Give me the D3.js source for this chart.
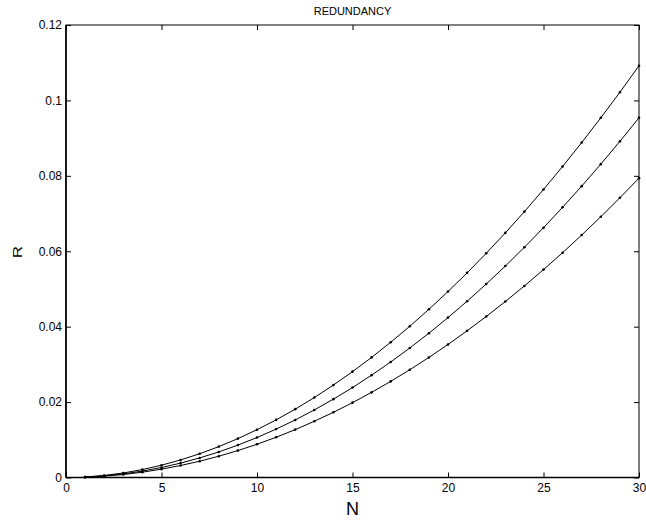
<!DOCTYPE html>
<html>
<head>
<meta charset="utf-8">
<script src="https://cdn.jsdelivr.net/npm/d3@7"></script>
<style>
  html, body { margin: 0; padding: 0; background: #fff; }
  svg { display: block; font-family: "Liberation Sans", Arial, Helvetica, sans-serif; }
</style>
</head>
<body>
<svg id="chart" width="646" height="521"></svg>
<script>
// ---- data ----
const N = [1,2,3,4,5,6,7,8,9,10,11,12,13,14,15,16,17,18,19,20,21,22,23,24,25,26,27,28,29,30];
const seriesTop = [0.00014,0.00054,0.00120,0.00210,0.00326,0.00466,0.00630,0.00819,0.01031,0.01268,
                   0.01528,0.01812,0.02120,0.02451,0.02807,0.03185,0.03587,0.04011,0.04460,0.04932,
                   0.05427,0.05945,0.06486,0.07050,0.07638,0.08248,0.08882,0.09538,0.10217,0.10919];
const seriesMid = [0.00011,0.00042,0.00095,0.00170,0.00265,0.00382,0.00519,0.00678,0.00859,0.01060,
                   0.01283,0.01526,0.01791,0.02078,0.02385,0.02714,0.03063,0.03434,0.03827,0.04240,
                   0.04675,0.05130,0.05607,0.06106,0.06625,0.07166,0.07727,0.08310,0.08915,0.09540];
const seriesLow = [0.00009,0.00035,0.00079,0.00141,0.00221,0.00318,0.00432,0.00565,0.00714,0.00882,
                   0.01067,0.01270,0.01491,0.01729,0.01985,0.02258,0.02549,0.02858,0.03184,0.03528,
                   0.03890,0.04269,0.04666,0.05080,0.05513,0.05962,0.06430,0.06915,0.07418,0.07938];
const xTicks = [0,5,10,15,20,25,30];
const xTickLabels = ["0","5","10","15","20","25","30"];
const yTicks = [0,0.02,0.04,0.06,0.08,0.1,0.12];
const yTickLabels = ["0","0.02","0.04","0.06","0.08","0.1","0.12"];
const chartTitle = "REDUNDANCY";
const xLabel = "N";
const yLabel = "R";

// ---- layout ----
const mLeft = 66, mRight = 639, mTop = 25, mBottom = 477.5;
const svg = d3.select("#chart");

const x = d3.scaleLinear().domain([0, 30]).range([mLeft, mRight]);
const y = d3.scaleLinear().domain([0, 0.12]).range([mBottom, mTop]);

// box
svg.append("rect")
  .attr("x", mLeft).attr("y", mTop)
  .attr("width", mRight - mLeft).attr("height", mBottom - mTop)
  .attr("fill", "none").attr("stroke", "#000").attr("stroke-width", 1);

// axes (inward ticks on all four sides)
function styleAxis(g) {
  g.select(".domain").remove();
  g.selectAll(".tick line").attr("stroke", "#000").attr("stroke-width", 1);
  g.selectAll(".tick text").attr("fill", "#000").style("font-size", "12px")
    .style("font-family", "'Liberation Sans', Arial, Helvetica, sans-serif");
}
const gx = svg.append("g").attr("transform", `translate(0,${mBottom})`)
  .call(d3.axisBottom(x).tickValues(xTicks).tickFormat((d, i) => xTickLabels[i])
        .tickSizeInner(-5).tickSizeOuter(0).tickPadding(6));
styleAxis(gx);
const gxt = svg.append("g").attr("transform", `translate(0,${mTop})`)
  .call(d3.axisTop(x).tickValues(xTicks).tickFormat("").tickSizeInner(-5).tickSizeOuter(0));
styleAxis(gxt);
const gy = svg.append("g").attr("transform", `translate(${mLeft},0)`)
  .call(d3.axisLeft(y).tickValues(yTicks).tickFormat((d, i) => yTickLabels[i])
        .tickSizeInner(-5).tickSizeOuter(0).tickPadding(4));
styleAxis(gy);
const gyr = svg.append("g").attr("transform", `translate(${mRight},0)`)
  .call(d3.axisRight(y).tickValues(yTicks).tickFormat("").tickSizeInner(-5).tickSizeOuter(0));
styleAxis(gyr);

// thicker left and bottom axis lines
svg.append("line").attr("x1", mLeft).attr("x2", mLeft).attr("y1", mTop).attr("y2", mBottom)
  .attr("stroke", "#000").attr("stroke-width", 1.6);
svg.append("line").attr("x1", mLeft).attr("x2", mRight).attr("y1", mBottom).attr("y2", mBottom)
  .attr("stroke", "#000").attr("stroke-width", 1.6);

// curves
const allSeries = [seriesTop, seriesMid, seriesLow];
const line = d3.line().x((d, i) => x(N[i])).y(d => y(d));
allSeries.forEach(s => {
  svg.append("path").datum(s).attr("d", line)
    .attr("fill", "none").attr("stroke", "#000").attr("stroke-width", 1);
  svg.append("g").selectAll("circle").data(s).join("circle")
    .attr("cx", (d, i) => x(N[i])).attr("cy", d => y(d)).attr("r", 1.3).attr("fill", "#000");
});

// title and labels
svg.append("text").attr("x", (mLeft + mRight) / 2).attr("y", 15)
  .attr("text-anchor", "middle").style("font-size", "11px").text(chartTitle);
svg.append("text").attr("x", (mLeft + mRight) / 2).attr("y", 515)
  .attr("text-anchor", "middle").style("font-size", "18px").text(xLabel);
svg.append("text")
  .attr("transform", "translate(22,252) rotate(-90) scale(1,0.75)")
  .attr("text-anchor", "middle").style("font-size", "17px").text(yLabel);
</script>
</body>
</html>
